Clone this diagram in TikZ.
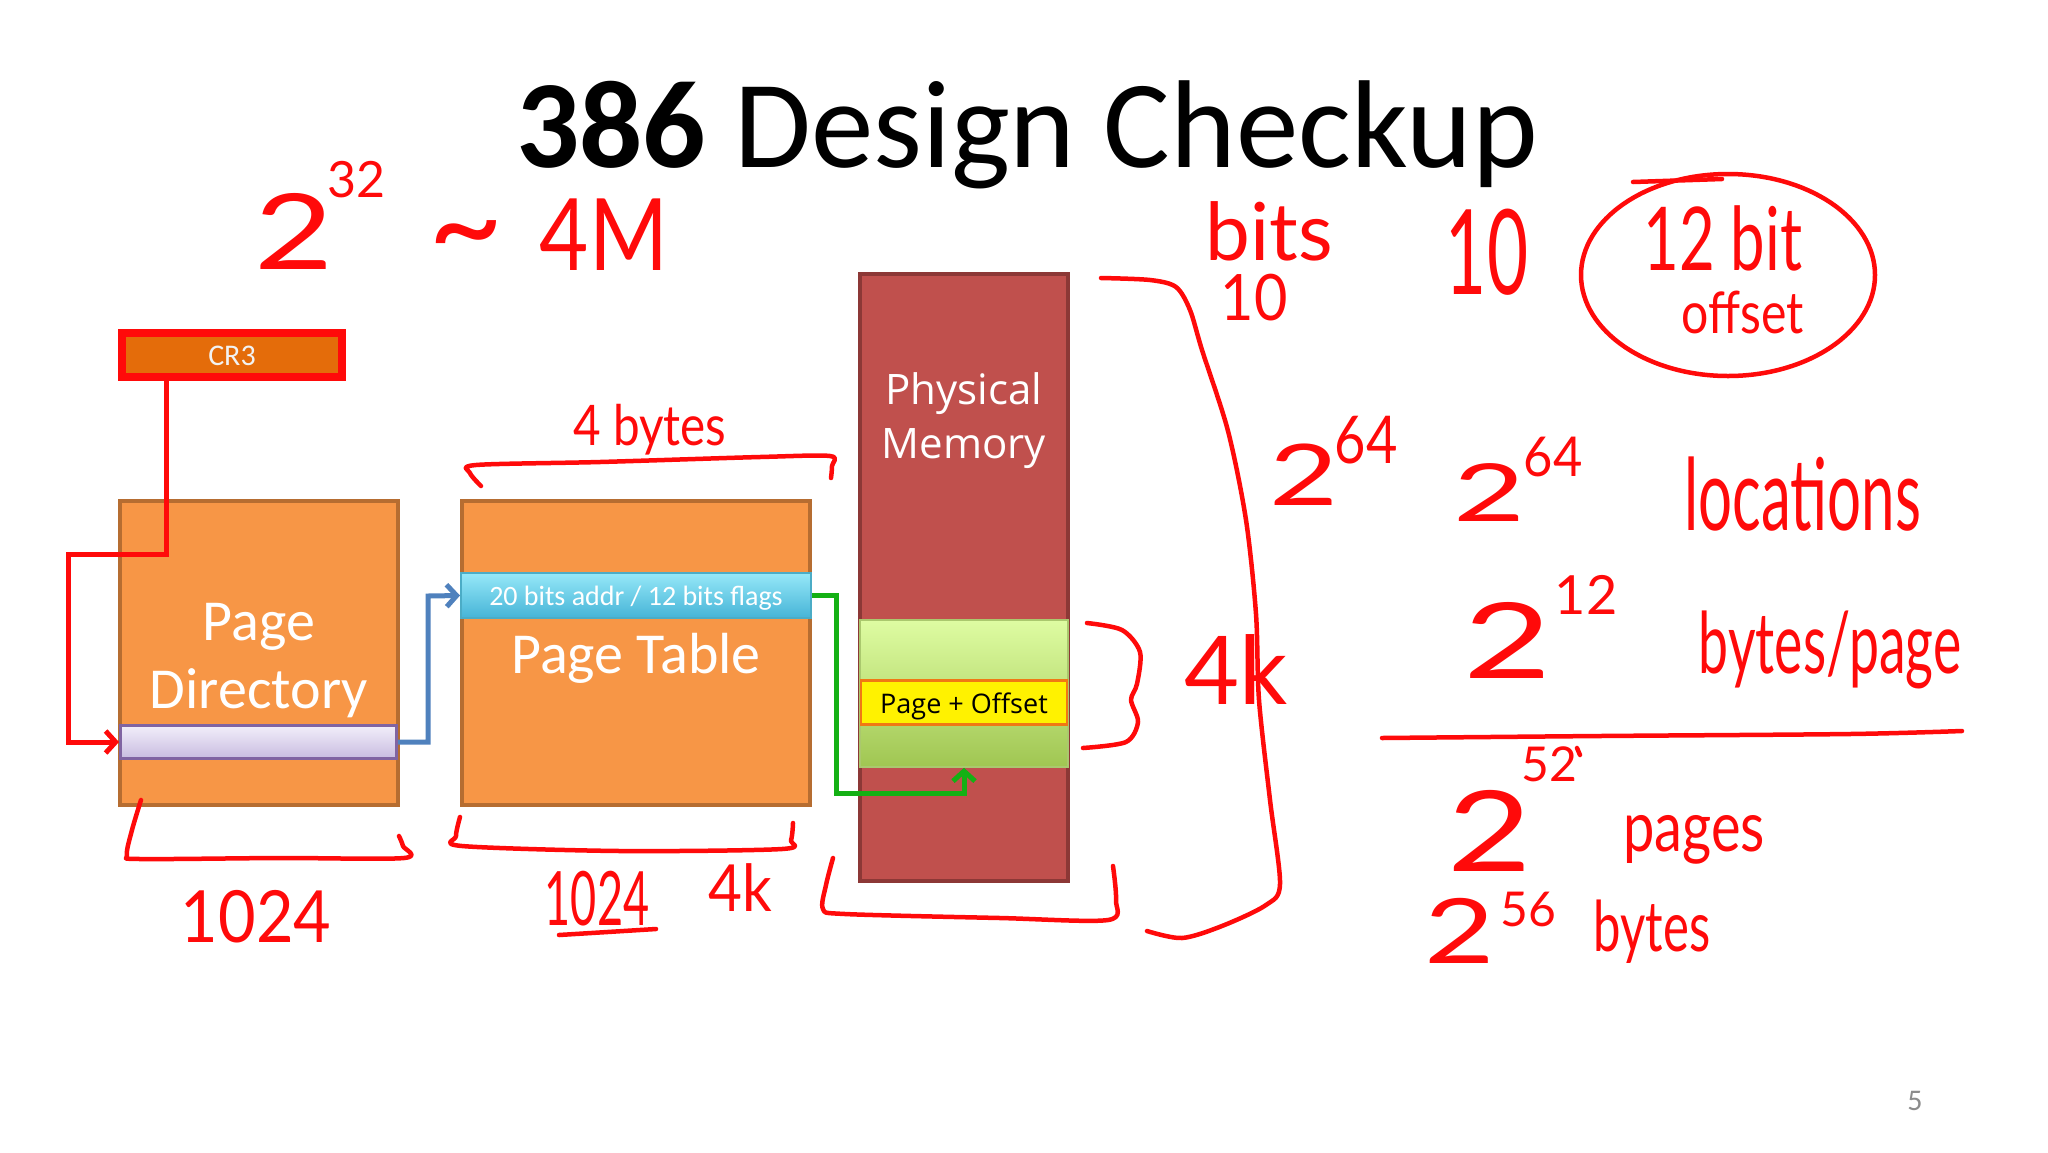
\documentclass[tikz,border=0pt]{standalone}
\usepackage{fontspec}
\usepackage{graphicx}
\setmainfont{Carlito}
\newfontfamily\osans{Open Sans}
\newfontfamily\hand{Lato}
\usetikzlibrary{arrows.meta}
\newcommand{\hfs}[1]{\fontsize{#1}{#1}\selectfont}
\newcommand{\sx}[2]{\scalebox{#1}[1]{#2}}
\definecolor{pdfill}{HTML}{F79646}
\definecolor{pdborder}{HTML}{B66D31}
\definecolor{crfill}{HTML}{E46C0A}
\definecolor{pmfill}{HTML}{C0504D}
\definecolor{pmborder}{HTML}{8C3836}
\definecolor{inkred}{HTML}{FF0A0A}
\definecolor{conblue}{HTML}{4F81BD}
\definecolor{congreen}{HTML}{14B014}
\definecolor{pnum}{HTML}{8C8C8C}
\tikzset{
  hw/.style={text=inkred, inner sep=0pt},
  ink/.style={draw=inkred, line width=4.5pt, line cap=round, line join=round},
  boxbase/.style={rectangle, inner sep=0pt},
  wtext/.style={text=white, inner sep=0pt, anchor=base},
  conn/.style={line width=5pt, line join=miter, -{Straight Barb[length=10pt,width=22pt]}},
}
\begin{document}
\begin{tikzpicture}[x=1pt,y=-1pt]
\fill[white] (0,0) rectangle (2048,1152);
\useasboundingbox (0,0) rectangle (2048,1152);

% title
\node[anchor=base, inner sep=0pt, font=\hfs{125}] (title) at (1027,167) {\textbf{386} Design Checkup};
\node[anchor=base, inner sep=0pt, text=pnum, font=\hfs{30}] (pagenum) at (1915,1110) {5};

% boxes
\node[boxbase, draw=inkred, line width=8pt, fill=crfill, minimum width=220, minimum height=44] (cr3) at (232,355) {};
\node[inner sep=0pt, text=white!95!black, font=\hfs{30}] (cr3t) at (232,356) {CR3};

\node[boxbase, draw=pdborder, line width=4pt, fill=pdfill, minimum width=278, minimum height=304] (pd) at (259,653) {};
\node[wtext, font=\hfs{58}] (pdt1) at (259,640) {Page};
\node[wtext, font=\hfs{58}] (pdt2) at (259,708) {Directory};
\node[boxbase, draw={rgb,255:red,128;green,100;blue,162}, line width=3pt, top color={rgb,255:red,242;green,238;blue,250}, bottom color={rgb,255:red,200;green,188;blue,224}, minimum width=276, minimum height=33] (pdent) at (258.5,742) {};

\node[boxbase, draw=pdborder, line width=4pt, fill=pdfill, minimum width=348, minimum height=304] (pt) at (636,653) {};
\node[boxbase, draw={rgb,255:red,75;green,172;blue,198}, line width=2pt, top color={rgb,255:red,150;green,232;blue,248}, bottom color={rgb,255:red,70;green,180;blue,215}, minimum width=350, minimum height=45] (ptent) at (636,595.5) {};
\node[wtext, font=\hfs{28}] (ptentt) at (636,605) {20 bits addr / 12 bits flags};
\node[wtext, font=\hfs{58}] (ptt) at (636,673) {Page Table};

\node[boxbase, draw=pmborder, line width=4pt, fill=pmfill, minimum width=208, minimum height=607] (pm) at (964,577.5) {};
\node[wtext, font=\osans\hfs{42}] (pmt1) at (964,404) {Physical};
\node[wtext, font=\osans\hfs{42}] (pmt2) at (964,458) {Memory};
\node[boxbase, draw={rgb,255:red,170;green,200;blue,110}, line width=1.5pt, top color={rgb,255:red,222;green,252;blue,162}, bottom color={rgb,255:red,160;green,198;blue,82}, minimum width=208, minimum height=147] (pmgreen) at (964,693.5) {};
\node[boxbase, draw={rgb,255:red,240;green,120;blue,20}, line width=2.5pt, fill=yellow, minimum width=206, minimum height=44] (pmyellow) at (964,702.5) {};
\node[anchor=base, inner sep=0pt, font=\osans\hfs{27}] (pmyt) at (964,713) {Page + Offset};

% connectors
\draw[conn, draw=inkred] ([xshift=48pt]cr3.south west) |- (68,554) |- (pdent.west);
\draw[conn, draw=conblue] (pdent.east) -| (428,596) -- (ptent.west);
\draw[conn, draw=congreen] (ptent.east) -| (836,793) -| (pmgreen.south);

% handwritten annotations
\node[hw, font=\hand\hfs{105}] (h2a) at (294,231) {\sx{1.3}{2}};
\node[hw, font=\hand\hfs{50}] (h32) at (356,180) {32};
\node[hw, font=\hand\hfs{130}, anchor=base] (htilde) at (466,270) {\textasciitilde};
\node[hw, font=\hand\hfs{100}] (h4m) at (604,235) {\sx{0.85}{4M}};
\node[hw, font=\hand\hfs{80}] (hbits) at (1269,231) {bits};
\node[hw, font=\hand\hfs{64}] (h10a) at (1254,298) {\sx{0.9}{10}};
\node[hw, font=\hand\hfs{118}] (h10b) at (1487,252) {\sx{0.6}{10}};
\node[hw, font=\hand\hfs{88}] (h12bit) at (1723,238) {\sx{0.7}{12 bit}};
\node[hw, font=\hand\hfs{58}] (hoffset) at (1743,312) {\sx{0.83}{offset}};
\draw[ink] (1728,275) ellipse [x radius=147, y radius=101];
\draw[ink] (1633,182) -- (1722,179);

\node[hw, font=\hand\hfs{56}] (h4bytes) at (650,430) {\sx{0.85}{4 bytes}};
\node[hw, font=\hand\hfs{72}] (h1024a) at (256,917) {\sx{0.9}{1024}};
\node[hw, font=\hand\hfs{75}] (h1024b) at (597,899) {\sx{0.6}{1024}};
\draw[ink] (559,935) -- (656,929);
\node[hw, font=\hand\hfs{65}] (h4ka) at (740,888) {\sx{0.9}{4k}};
\node[hw, font=\hand\hfs{95}] (h4kb) at (1236,670) {4k};

\node[hw, font=\hand\hfs{85}] (h2b) at (1304,475) {\sx{1.4}{2}};
\node[hw, font=\hand\hfs{66}] (h64a) at (1366,440) {\sx{0.82}{64}};
\node[hw, font=\hand\hfs{80}] (h2c) at (1489,493) {\sx{1.55}{2}};
\node[hw, font=\hand\hfs{55}] (h64b) at (1553,457) {\sx{0.92}{64}};
\node[hw, font=\hand\hfs{100}] (hloc) at (1803,494) {\sx{0.6}{locations}};
\node[hw, font=\hand\hfs{105}] (h2d) at (1508,640) {\sx{1.45}{2}};
\node[hw, font=\hand\hfs{54}] (h12) at (1586,595) {12};
\node[hw, font=\hand\hfs{85}] (hbpp) at (1830,650) {\sx{0.63}{bytes/page}};
\draw[ink] plot[smooth] coordinates {(1382,738) (1600,736) (1850,734) (1962,731)};
\node[hw, font=\hand\hfs{112}] (h2e) at (1490,831) {\sx{1.3}{2}};
\node[hw, font=\hand\hfs{48}] (h52) at (1549,764) {52};
\draw[ink] (1577,748) -- (1580,755);
\node[hw, font=\hand\hfs{70}] (hpages) at (1694,840) {\sx{0.8}{pages}};
\node[hw, font=\hand\hfs{90}] (h2f) at (1460,931) {\sx{1.35}{2}};
\node[hw, font=\hand\hfs{48}] (h56) at (1528,909) {56};
\node[hw, font=\hand\hfs{70}] (hbytes) at (1652,932) {\sx{0.7}{bytes}};

% braces
\draw[ink] plot[smooth] coordinates {(481,486) (470,473) (476,465) (600,462) (760,457) (830,456) (832,466) (831,478)};
\draw[ink] plot[smooth] coordinates {(141,800) (132,830) (127,855) (140,859) (280,858) (404,858) (403,846) (399,836)};
\draw[ink] plot[smooth] coordinates {(460,817) (456,836) (462,846) (620,851) (782,849) (791,840) (793,823)};
\draw[ink] plot[smooth] coordinates {(833,858) (826,885) (823,909) (845,914) (1000,918) (1108,920) (1116,900) (1113,866)};
\draw[ink] plot[smooth] coordinates {(1087,623) (1122,630) (1140,652) (1137,684) (1131,700) (1138,722) (1126,742) (1083,748)};
\draw[ink] plot[smooth] coordinates {(1101,278) (1150,280) (1176,287) (1190,310) (1202,350) (1228,431) (1246,520) (1256,614) (1259,700) (1270,800) (1280,884) (1266,905) (1222,926) (1182,938) (1147,931)};
\end{tikzpicture}
\end{document}
